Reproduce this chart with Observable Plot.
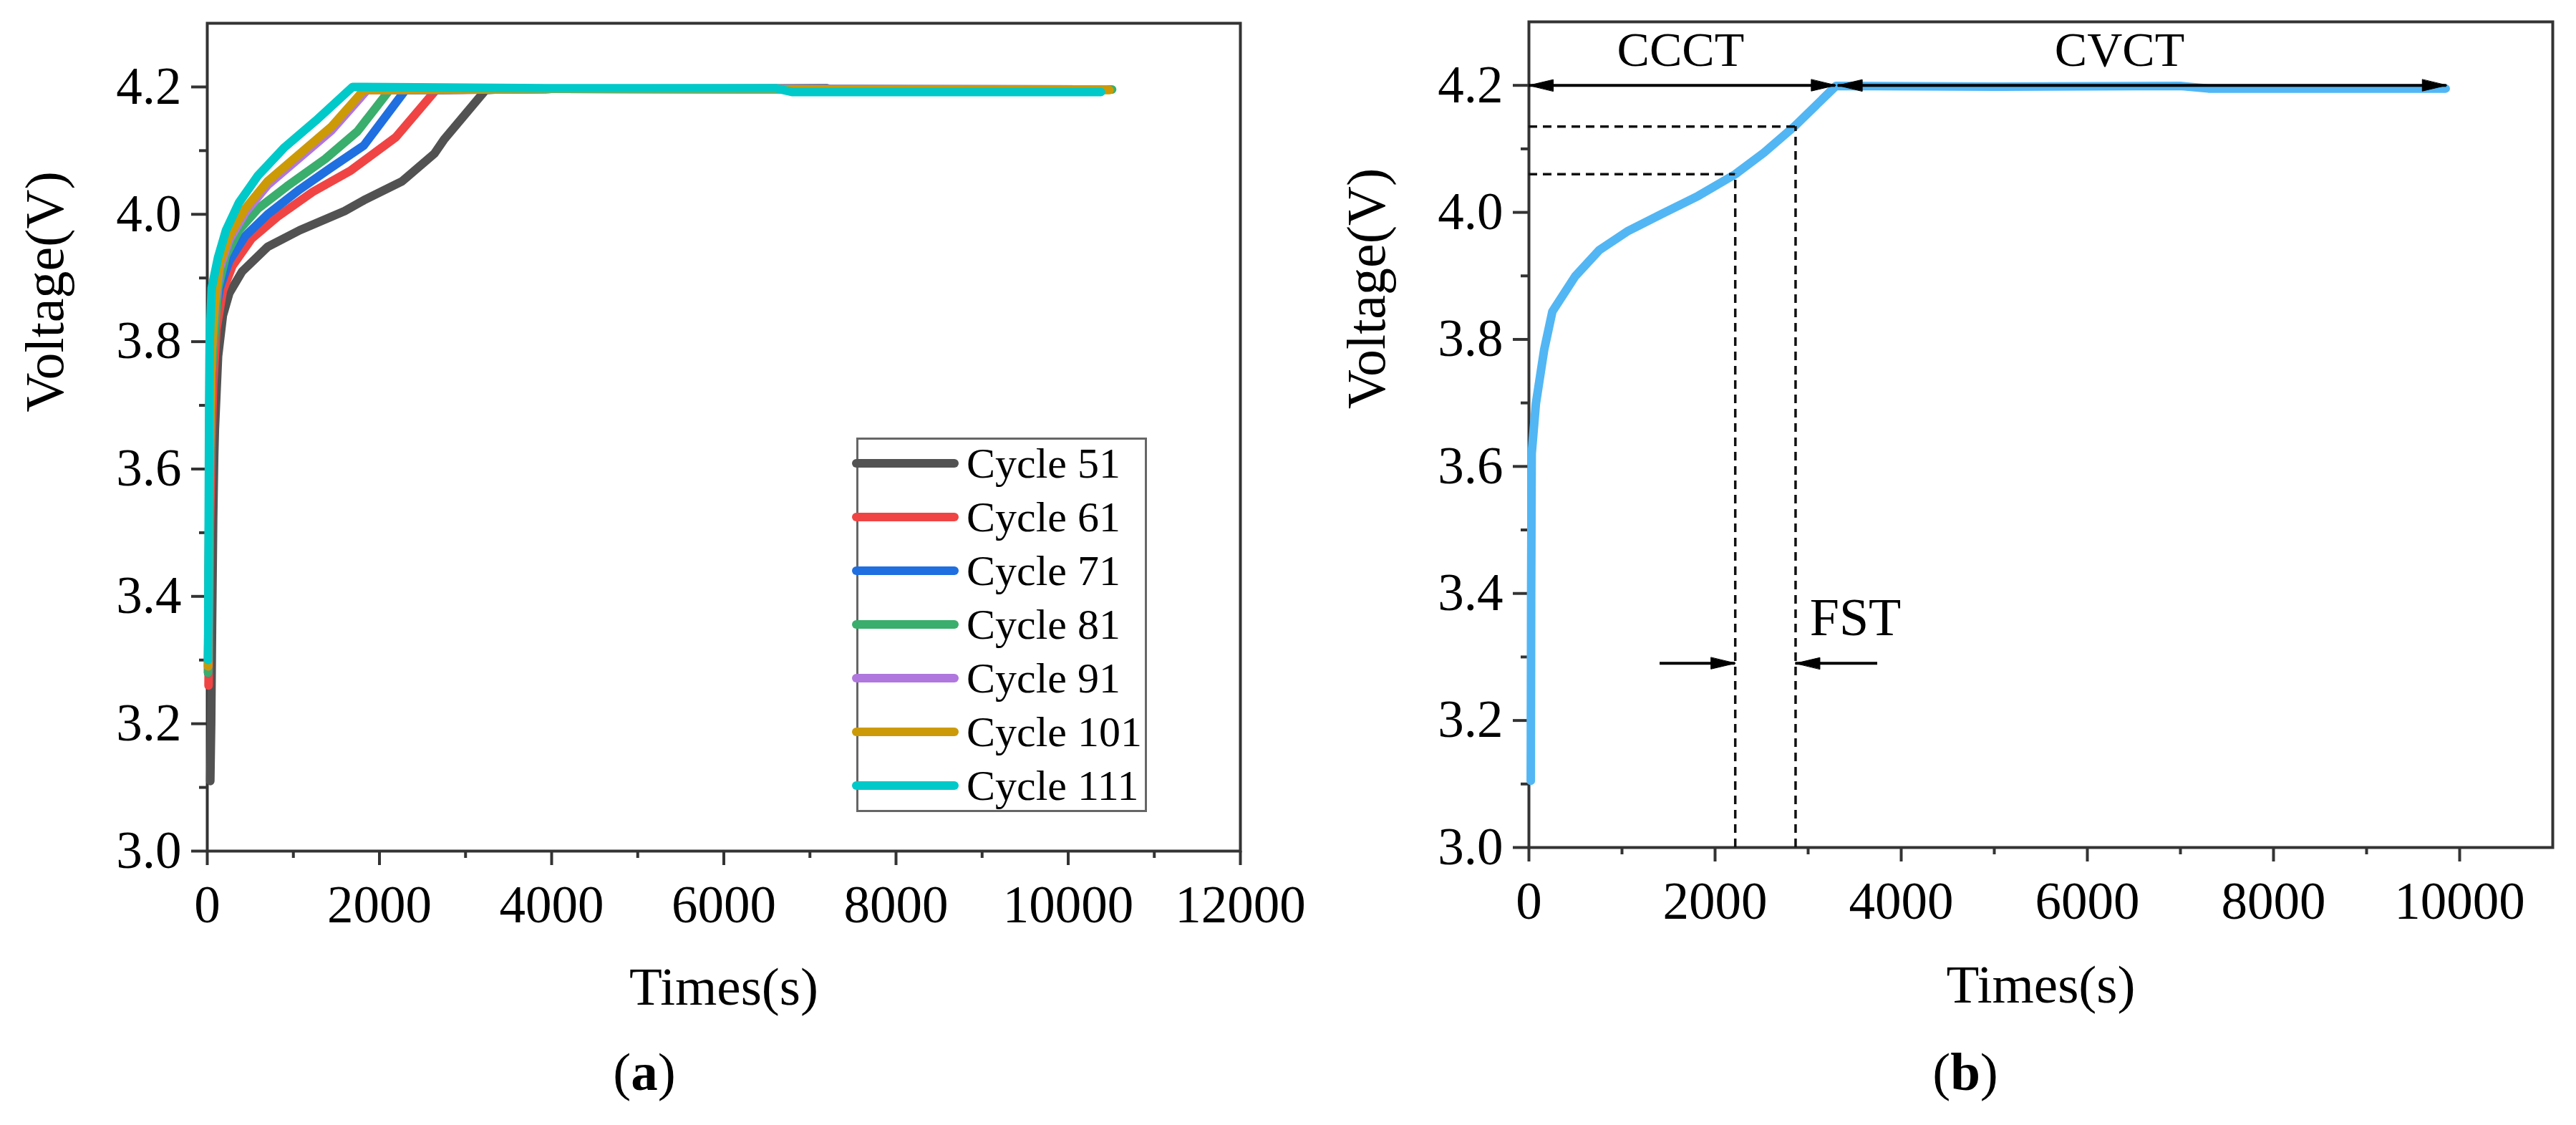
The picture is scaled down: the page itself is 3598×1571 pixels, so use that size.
<!DOCTYPE html>
<html><head><meta charset="utf-8">
<script src="https://cdn.jsdelivr.net/npm/d3@7"></script>
<script src="https://cdn.jsdelivr.net/npm/@observablehq/plot@0.6"></script>
<style>
html,body{margin:0;padding:0;background:#fff;}
#root{position:relative;width:3598px;height:1571px;overflow:hidden;font-family:"Liberation Serif","Times New Roman",serif;color:#000;}
#root svg text{font-family:"Liberation Serif","Times New Roman",serif !important;}
.panel{position:absolute;top:0;}
.cap{position:absolute;top:1459px;width:400px;font-size:75px;line-height:75px;text-align:center;}
.legend{position:absolute;left:1196px;top:611px;width:406px;height:523px;border:3px solid #666;box-sizing:border-box;}
.sw{position:absolute;left:1190px;width:149px;height:12px;border-radius:6px;}
.lt{position:absolute;left:1350px;font-size:60px;line-height:60px;white-space:nowrap;}
</style></head><body><div id="root"></div>
<script>
// ---------- data: panel (a) ----------
const cycles = ["Cycle 51","Cycle 61","Cycle 71","Cycle 81","Cycle 91","Cycle 101","Cycle 111"];
const cycleColors = ["#525252","#f04444","#1f6fe0","#3aae6c","#b077de","#cc9a06","#00c9c9"];

const t51 = [35, 45, 55, 68, 80, 88, 125, 181, 255, 404, 702, 1074, 1595, 1818, 2264, 2636, 2748, 3232, 3500, 5000, 7200];
const v51 = [3.11, 3.20, 3.35, 3.52, 3.62, 3.662, 3.777, 3.841, 3.876, 3.910, 3.949, 3.975, 4.005, 4.022, 4.052, 4.095, 4.117, 4.195, 4.197, 4.197, 4.198];
const t61 = [15, 30, 50, 69, 107, 181, 292, 516, 813, 1223, 1669, 2190, 2655, 4000, 10450];
const v61 = [3.26, 3.50, 3.65, 3.734, 3.820, 3.880, 3.919, 3.962, 3.996, 4.035, 4.069, 4.121, 4.195, 4.197, 4.196];
const t71 = [10, 25, 45, 69, 144, 255, 441, 702, 1074, 1446, 1818, 2301, 4000, 10450];
const v71 = [3.28, 3.55, 3.72, 3.82, 3.884, 3.927, 3.966, 4.000, 4.039, 4.074, 4.108, 4.195, 4.197, 4.196];
const t81 = [10, 25, 50, 125, 218, 367, 590, 925, 1371, 1743, 2116, 4000, 10510];
const v81 = [3.28, 3.55, 3.75, 3.884, 3.936, 3.975, 4.009, 4.044, 4.087, 4.130, 4.195, 4.197, 4.196];
const t91 = [10, 25, 50, 88, 144, 255, 441, 702, 1074, 1446, 1855, 4000, 10450];
const v91 = [3.29, 3.60, 3.78, 3.855, 3.915, 3.960, 4.003, 4.046, 4.089, 4.132, 4.195, 4.197, 4.196];
const t101 = [10, 25, 50, 88, 144, 255, 441, 702, 1074, 1446, 1818, 4000, 10480];
const v101 = [3.29, 3.60, 3.78, 3.863, 3.923, 3.966, 4.009, 4.052, 4.095, 4.138, 4.195, 4.197, 4.195];
const t111 = [10, 18, 22, 28, 51, 125, 218, 367, 590, 888, 1260, 1688, 4000, 6600, 6800, 10380];
const v111 = [3.30, 3.55, 3.70, 3.80, 3.884, 3.932, 3.975, 4.018, 4.061, 4.104, 4.147, 4.200, 4.198, 4.198, 4.192, 4.192];
const cycleTimes = [t51, t61, t71, t81, t91, t101, t111];
const cycleVolts = [v51, v61, v71, v81, v91, v101, v111];

// ---------- data: panel (b) ----------
const tB = [20, 24, 30, 75, 163, 252, 495, 759, 1068, 1422, 1819, 2216, 2525, 2857, 3298, 5000, 7000, 7300, 9850];
const vB = [3.105, 3.40, 3.62, 3.699, 3.783, 3.844, 3.899, 3.941, 3.971, 3.997, 4.026, 4.060, 4.094, 4.136, 4.199, 4.198, 4.199, 4.195, 4.195];
const fstTimes = [2217, 2865];
const fstVolts = [4.06, 4.135];
const shaftY  = [4.2, 4.2, 3.29, 3.29];
const shaftX1 = [0, 3320, 1408, 2865];
const shaftX2 = [3295, 9860, 2217, 3746];
const headX = [0, 3295, 3320, 9860, 2217, 2865];
const headY = [4.2, 4.2, 4.2, 4.2, 3.29, 3.29];
const headAngle = [-90, 90, -90, 90, 90, -90];
const phaseLabels = ["CCCT", "CVCT"];
const phaseX = [1630, 6346];
const phaseY = [4.255, 4.255];
const fstLabel = ["FST"];
const fstLabelX = [3508];
const fstLabelY = [3.361];

// ---------- ticks ----------
const xTicksA = [0, 2000, 4000, 6000, 8000, 10000, 12000];
const xMinorA = [1000, 3000, 5000, 7000, 9000, 11000];
const xTicksB = [0, 2000, 4000, 6000, 8000, 10000];
const xMinorB = [1000, 3000, 5000, 7000, 9000];
const yTicks = [3.0, 3.2, 3.4, 3.6, 3.8, 4.0, 4.2];
const yMinor = [3.1, 3.3, 3.5, 3.7, 3.9, 4.1];

const FONT = "Liberation Serif";
const axisCol = "#333";
const style = {fontFamily: FONT, background: "transparent", overflow: "visible", maxWidth: "none", color: "#000"};

function axes(xT, xM) {
  return [
    Plot.frame({stroke: axisCol, strokeWidth: 4}),
    Plot.axisX({ticks: xT, tickSize: 20, tickPadding: 28, fontSize: 73, fontFamily: FONT, strokeWidth: 4, stroke: axisCol, tickFormat: d => String(d), label: null}),
    Plot.axisX({ticks: xM, tickSize: 10, strokeWidth: 4, stroke: axisCol, tickFormat: () => "", label: null}),
    Plot.axisY({ticks: yTicks, tickSize: 22, tickPadding: 14, fontSize: 73, fontFamily: FONT, strokeWidth: 4, stroke: axisCol, tickFormat: d3.format(".1f"), label: null}),
    Plot.axisY({ticks: yMinor, tickSize: 11, strokeWidth: 4, stroke: axisCol, tickFormat: () => "", label: null})
  ];
}
function titles(dyY, dyX) {
  return [
    Plot.text(["Voltage(V)"], {frameAnchor: "left", rotate: -90, dx: -226, dy: dyY, fontSize: 76, fontFamily: FONT, text: d => d, fill: "#000"}),
    Plot.text(["Times(s)"], {frameAnchor: "bottom", lineAnchor: "middle", dy: dyX, fontSize: 75, fontFamily: FONT, text: d => d, fill: "#000"})
  ];
}

const rowsA = cycles.flatMap((c, i) => cycleTimes[i].map((t, j) => ({cycle: c, t, v: cycleVolts[i][j]})));
const rowsB = tB.map((t, j) => ({t, v: vB[j]}));

const plotA = Plot.plot({
  width: 1799, height: 1440,
  marginLeft: 289, marginRight: 67, marginTop: 32, marginBottom: 252,
  x: {domain: [0, 12000]},
  y: {domain: [3.0, 4.3]},
  color: {domain: cycles, range: cycleColors},
  style,
  marks: [
    ...axes(xTicksA, xMinorA),
    Plot.line(rowsA, {x: "t", y: "v", z: "cycle", stroke: "cycle", strokeWidth: 12, strokeLinejoin: "round", strokeLinecap: "round"}),
    ...titles(-35, 190)
  ]
});

const headShape = {draw(ctx, l) { ctx.moveTo(0, -l); ctx.lineTo(8, 0); ctx.lineTo(-8, 0); ctx.closePath(); }};
const idxS = d3.range(shaftY.length);
const idxH = d3.range(headX.length);

const plotB = Plot.plot({
  width: 1799, height: 1440,
  marginLeft: 336, marginRight: 33, marginTop: 30, marginBottom: 257,
  x: {domain: [0, 11000]},
  y: {domain: [3.0, 4.3]},
  style,
  marks: [
    ...axes(xTicksB, xMinorB),
    Plot.line(rowsB, {x: "t", y: "v", stroke: "#52b6f4", strokeWidth: 12, strokeLinejoin: "round", strokeLinecap: "round"}),
    Plot.ruleY(fstVolts, {y: d => d, x1: 0, x2: (d, i) => fstTimes[i], stroke: "#111", strokeWidth: 3.5, strokeDasharray: "12,8"}),
    Plot.ruleX(fstTimes, {x: d => d, y1: 3.0, y2: (d, i) => fstVolts[i], stroke: "#111", strokeWidth: 3.5, strokeDasharray: "12,8"}),
    Plot.ruleY(idxS, {y: i => shaftY[i], x1: i => shaftX1[i], x2: i => shaftX2[i], stroke: "#000", strokeWidth: 4}),
    Plot.vector(idxH, {x: i => headX[i], y: i => headY[i], rotate: i => headAngle[i], length: 34, anchor: "end", shape: headShape, fill: "#000", stroke: "#000", strokeWidth: 1}),
    Plot.text(phaseLabels, {x: (d, i) => phaseX[i], y: (d, i) => phaseY[i], text: d => d, fontSize: 68, fontFamily: FONT, fill: "#000"}),
    Plot.text(fstLabel, {x: (d, i) => fstLabelX[i], y: (d, i) => fstLabelY[i], text: d => d, fontSize: 74, fontFamily: FONT, fill: "#000"}),
    ...titles(-36, 192)
  ]
});

const root = document.getElementById("root");
const pa = document.createElement("div"); pa.className = "panel"; pa.style.left = "0px"; pa.appendChild(plotA);
const pb = document.createElement("div"); pb.className = "panel"; pb.style.left = "1799px"; pb.appendChild(plotB);
root.appendChild(pb); root.appendChild(pa);

// legend for panel (a)
const lg = document.createElement("div"); lg.className = "legend"; root.appendChild(lg);
cycles.forEach((c, i) => {
  const cy = 647 + 75 * i;
  const sw = document.createElement("div"); sw.className = "sw";
  sw.style.top = (cy - 6) + "px"; sw.style.background = cycleColors[i]; root.appendChild(sw);
  const tx = document.createElement("div"); tx.className = "lt";
  tx.style.top = (cy - 30) + "px"; tx.textContent = c; root.appendChild(tx);
});

// captions
const capA = document.createElement("div"); capA.className = "cap"; capA.style.left = "700px";
capA.innerHTML = "(<b>a</b>)"; root.appendChild(capA);
const capB = document.createElement("div"); capB.className = "cap"; capB.style.left = "2545px";
capB.innerHTML = "(<b>b</b>)"; root.appendChild(capB);
</script></body></html>
